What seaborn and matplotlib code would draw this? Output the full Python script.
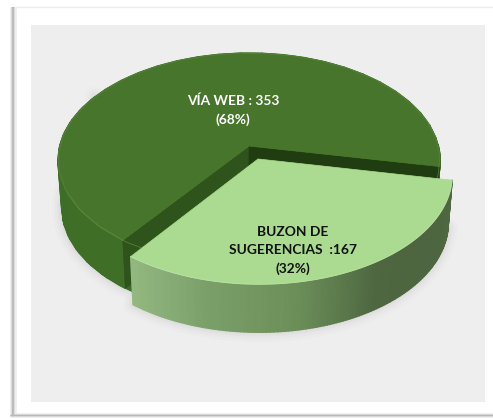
import numpy as np
import matplotlib
matplotlib.use("Agg")
import matplotlib.pyplot as plt
from matplotlib.patches import Polygon, Rectangle
from matplotlib.collections import PolyCollection
import seaborn as sns

# Survey channels and their counts
categories = ["VÍA WEB", "BUZON DE\nSUGERENCIAS "]
counts = [353, 167]
percent_labels = ["(68%)", "(32%)"]

sns.set_theme(style="white")
plt.rcParams["font.family"] = ["Lato", "DejaVu Sans"]

W, H = 493, 419
fig = plt.figure(figsize=(W / 100, H / 100), dpi=100, facecolor="white")
ax = fig.add_axes([0, 0, 1, 1])
ax.set_xlim(0, W)
ax.set_ylim(H, 0)
ax.axis("off")

# Card edge: faint along the top, heavier with a soft fall-off on the left and bottom
ax.plot([13, W], [7, 7], color="#ececec", lw=1.0, zorder=0)
for lw, col in [(5.0, "#f0f0f0"), (3.0, "#dcdcdc"), (1.3, "#b8b8b8")]:
    ax.plot([12.5, 12.5], [7, 416], color=col, lw=lw, zorder=0, solid_capstyle="butt")
    ax.plot([10, W], [415, 415], color=col, lw=lw * 0.7, zorder=0, solid_capstyle="butt")
ax.add_patch(Rectangle((31, 25), 454, 377, fc="#eeeeee", ec="none", zorder=1))

# Tilted-disc projection
CX, CY = 249.0, 146.0
A, B, K = 189.4, 105.2, 0.131
DEPTH = 48.0
BASE_SCALE = 0.98
EXPLODE = 0.13


def project(u, v, off=(0.0, 0.0), base=False):
    u = np.asarray(u, float) + off[0]
    v = np.asarray(v, float) + off[1]
    d = 1 + K * v
    x, y = A * u / d, -B * v / d
    if base:
        x = x * BASE_SCALE
        y = y + DEPTH
    return np.column_stack([x + CX, y + CY])


def arc(a0, a1, n=160):
    t = np.radians(np.linspace(a0, a1, n))
    return np.cos(t), np.sin(t)


def side_strips(a0, a1, palette, off=(0.0, 0.0), zorder=3):
    """Outer rim of a slice as vertical strips shaded along the arc."""
    n = len(palette)
    u, v = arc(a0, a1, n + 1)
    top, bot = project(u, v, off), project(u, v, off, base=True)
    quads = [[top[i], top[i + 1], bot[i + 1], bot[i]] for i in range(n)]
    ax.add_collection(PolyCollection(quads, facecolors=palette, edgecolors=palette,
                                     linewidths=1.0, zorder=zorder))


def soft_shadow(points, zorder):
    for lw, alpha in [(14, 0.018), (10, 0.022), (6, 0.03), (3, 0.035)]:
        ax.add_patch(Polygon(points, closed=True, fc="none", ec="#555555",
                             lw=lw, alpha=alpha, joinstyle="round", zorder=zorder))


# Slice angles follow the counts; the small slice is centred at the front
total = sum(counts)
small_sweep = 360 * counts[1] / total
small_start = 291.2 - small_sweep / 2
small_end = small_start + small_sweep
big_start = small_end
big_end = small_start + 360
mid = np.radians(291.2)
offset = (EXPLODE * np.cos(mid), EXPLODE * np.sin(mid))

TOP_DARK = "#47752b"
TOP_LIGHT = "#aadb90"
WALL_BACK = "#1f3d10"
WALL_LEFT = "#2e531b"
origin = project([0], [0])[0]
origin_low = project([0], [0], base=True)[0]

# Large slice: ground shadow, rim, cut faces, then top
uL, vL = arc(150, big_end)
shadow_big = np.vstack([project(uL, vL, base=True)[::-1], project(uL[:1], vL[:1])])
soft_shadow(shadow_big, 2)
side_strips(150, big_end, sns.blend_palette(["#47752b", "#3a6824", "#2f5a1e", "#3d6c27", "#3f6e27"], 60))
side_strips(big_start - 360, 1, sns.blend_palette(["#3a6824", "#3a6824"], 10))

cu, cv = np.cos(np.radians(big_end)), np.sin(np.radians(big_end))
left_wall = [origin, project([cu], [cv])[0], project([cu], [cv], base=True)[0], origin_low]
ax.add_patch(Polygon(left_wall, fc=WALL_LEFT, ec=WALL_LEFT, lw=0.5, zorder=4))
cu, cv = np.cos(np.radians(big_start)), np.sin(np.radians(big_start))
right_wall = [origin, project([cu], [cv])[0], project([cu], [cv], base=True)[0], origin_low]
ax.add_patch(Polygon(right_wall, fc=WALL_BACK, ec=WALL_BACK, lw=0.5, zorder=4))

u, v = arc(big_start, big_end, 300)
ax.add_patch(Polygon(np.vstack([origin, project(u, v)]), fc=TOP_DARK, ec=TOP_DARK, lw=0.5, zorder=5))
# Bevel highlight where the top meets the front rim
rim = project(*arc(205, big_end, 40))
ax.plot(rim[:, 0], rim[:, 1], color="#5c8840", lw=0.7, alpha=0.7, zorder=5.5)

# Small slice pulled out towards the viewer
u, v = arc(small_start, small_end, 200)
soft_shadow(project(u, v, offset, base=True), 6)
side_strips(small_start, small_end,
            sns.blend_palette(["#93b981", "#7b9f69", "#6c8f5a", "#4e6740", "#4d6540", "#4f6841"], 120),
            offset, zorder=7)
apex = project([0], [0], offset)
ax.add_patch(Polygon(np.vstack([apex, project(u, v, offset)]), fc=TOP_LIGHT, ec=TOP_LIGHT, lw=0.5, zorder=8))
rim = project(u, v, offset)
ax.plot(rim[:, 0], rim[:, 1], color="#c6e8b2", lw=0.7, alpha=0.6, zorder=8.5)

# Labels carry the category, its count and its share
ax.text(233, 110, f"{categories[0]} : {counts[0]}\n{percent_labels[0]}", color="white",
        fontsize=9.9, fontweight="bold", ha="center", va="center", linespacing=1.6, zorder=9)
ax.text(293, 250, f"{categories[1]} :{counts[1]}\n{percent_labels[1]}", color="#111111",
        fontsize=9.9, fontweight="bold", ha="center", va="center", linespacing=1.6, zorder=9)

fig.savefig("out.png", dpi=100)
